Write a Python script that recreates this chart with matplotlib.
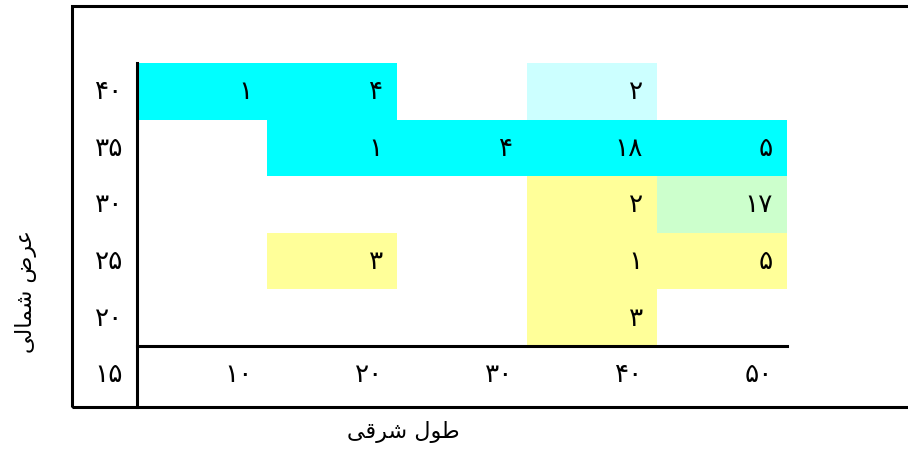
import matplotlib.pyplot as plt
from matplotlib.patches import Rectangle

# Persian digits
FA = str.maketrans('0123456789', '۰۱۲۳۴۵۶۷۸۹')

def fa(n):
    return str(n).translate(FA)

# grid axes (degrees)
lons = [10, 20, 30, 40, 50]
lats = [40, 35, 30, 25, 20, 15]

# occupied cells: (lon, lat, count, colour)
cell_lon = [10, 20, 40, 20, 30, 40, 50, 40, 50, 20, 40, 50, 40]
cell_lat = [40, 40, 40, 35, 35, 35, 35, 30, 30, 25, 25, 25, 20]
cell_val = [1, 4, 2, 1, 4, 18, 5, 2, 17, 3, 1, 5, 3]
cell_col = ['#00FFFF', '#00FFFF', '#CCFFFF',
            '#00FFFF', '#00FFFF', '#00FFFF', '#00FFFF',
            '#FFFF99', '#CCFFCC',
            '#FFFF99', '#FFFF99', '#FFFF99',
            '#FFFF99']

# axis titles, pre-shaped (presentation forms, visual order)
ylabel = '\uFEF0\uFEDF\uFE8E\uFEE4\uFEB7 \uFEBD\uFEAE\uFECB'   # عرض شمالی
xlabel = '\uFEF0\uFED7\uFEAE\uFEB7 \uFEDD\uFEEE\uFEC3'         # طول شرقی

plt.rcParams['font.family'] = ['DejaVu Sans']

fig = plt.figure(figsize=(9.08, 4.52), dpi=100)
ax = fig.add_axes([0, 0, 1, 1])
ax.axis('off')

# 13 px per degree of lon, 11.32 px per degree of lat
px_x, px_y = 13.0, 11.32
ax.set_xlim(-72 / px_x, 836 / px_x)
ax.set_ylim(42.5 - 388 / px_y, 42.5 + 64 / px_y)

# coloured cells
ax.bar(cell_lon, 5, width=10, bottom=[l - 2.5 for l in cell_lat],
       color=cell_col, edgecolor='none', zorder=1)

pad = 14 / px_x
fs = 19
for lo, la, v in zip(cell_lon, cell_lat, cell_val):
    ax.text(lo + 5 - pad, la, fa(v), ha='right', va='center',
            fontsize=fs, zorder=3)

# row labels and column labels
for la in lats:
    ax.text(5 - pad, la, fa(la), ha='right', va='center', fontsize=fs)
for lo in lons:
    ax.text(lo + 5 - pad, 15, fa(lo), ha='right', va='center', fontsize=fs)

# frame and inner axis lines
bot = 42.5 - 344 / px_y
top = 42.5 + 57 / px_y
ax.add_patch(Rectangle((0, bot), 70, top - bot, fill=False,
                       edgecolor='black', linewidth=2.2, zorder=4,
                       clip_on=True))
ax.plot([5, 5], [42.5, bot], color='black', linewidth=2.2, zorder=4)
ax.plot([5, 55], [17.5, 17.5], color='black', linewidth=2.2, zorder=4)

ax.text(-46 / px_x, 42.5 - 228 / px_y, ylabel, rotation=90,
        ha='center', va='center', fontsize=16)
ax.text(331 / px_x, 42.5 - 368 / px_y, xlabel,
        ha='center', va='center', fontsize=16)

fig.savefig('out.png', dpi=100)
